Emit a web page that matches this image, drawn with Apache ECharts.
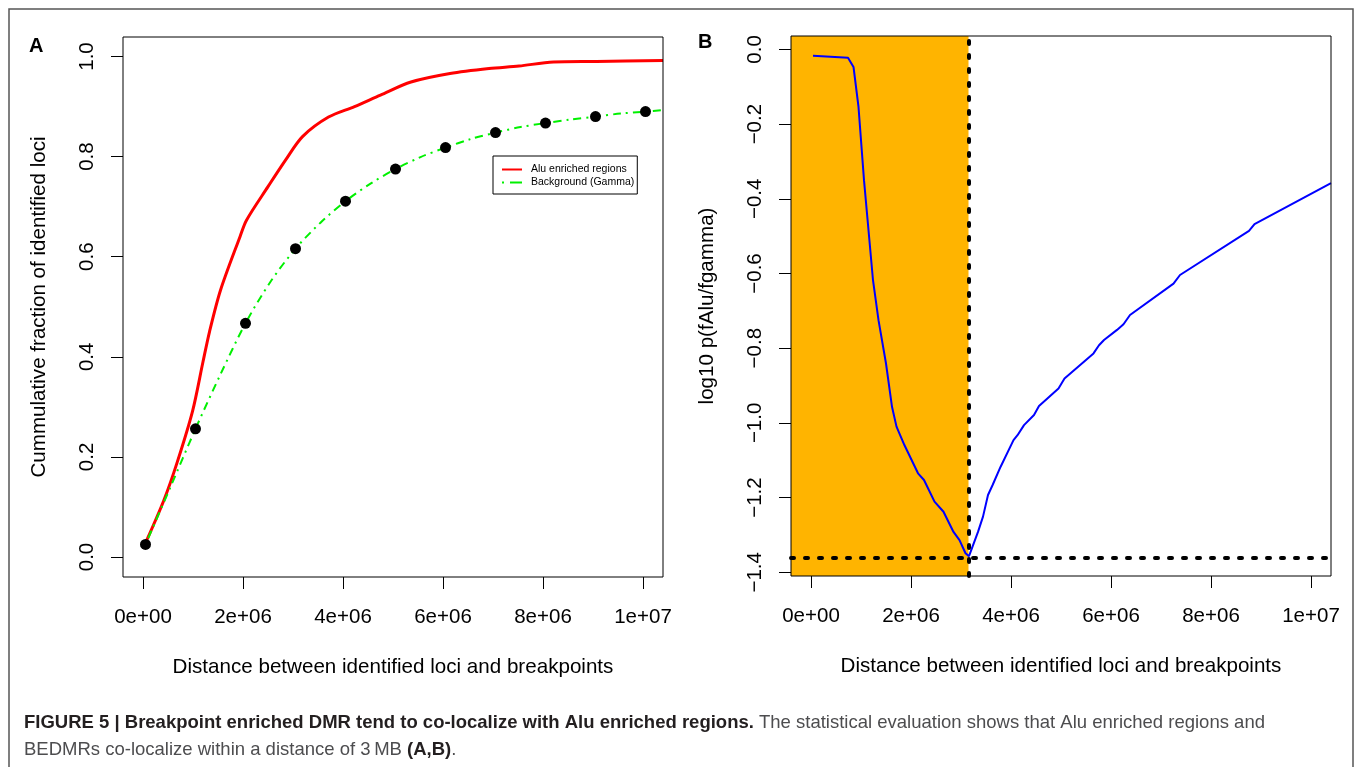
<!DOCTYPE html>
<html lang="en">
<head>
<meta charset="UTF-8">
<title>Figure 5</title>
<script src="https://cdn.jsdelivr.net/npm/echarts@6/dist/echarts.min.js"></script>
<style>
  html, body { margin: 0; padding: 0; background: #fff; }
  #chart { width: 1357px; height: 767px; }
</style>
</head>
<body>
<div id="chart"></div>
<script>
// ---- panel A: cumulative fraction of identified loci ----
var aluCurve = [
  [5e4, 0.028], [4.2e5, 0.114], [6.8e5, 0.188], [9.9e5, 0.291], [1.2e6, 0.39], [1.33e6, 0.45],
  [1.55e6, 0.533], [1.94e6, 0.64], [2.07e6, 0.673], [2.5e6, 0.74], [2.85e6, 0.793],
  [3.19e6, 0.84], [3.71e6, 0.879], [4.23e6, 0.90], [4.75e6, 0.923], [5.36e6, 0.949],
  [6.14e6, 0.966], [6.92e6, 0.976], [7.52e6, 0.981], [8.21e6, 0.989], [9.07e6, 0.99],
  [1.04e7, 0.992]
];
var gammaCurve = [
  [5e4, 0.025], [5.5e5, 0.14], [1.05e6, 0.256], [1.55e6, 0.365], [2.05e6, 0.467],
  [2.55e6, 0.55], [3.05e6, 0.616], [3.55e6, 0.668], [4.05e6, 0.711], [4.55e6, 0.746],
  [5.05e6, 0.775], [5.55e6, 0.799], [6.05e6, 0.818], [6.55e6, 0.835], [7.05e6, 0.848],
  [7.55e6, 0.859], [8.05e6, 0.867], [8.55e6, 0.874], [9.05e6, 0.880], [9.55e6, 0.886],
  [1.005e7, 0.890], [1.04e7, 0.893]
];
var gammaPoints = [
  [5e4, 0.025], [1.05e6, 0.256], [2.05e6, 0.467], [3.05e6, 0.616], [4.05e6, 0.711],
  [5.05e6, 0.775], [6.05e6, 0.818], [7.05e6, 0.848], [8.05e6, 0.867], [9.05e6, 0.880],
  [1.005e7, 0.890]
];

// ---- panel B: log10 p(fAlu/fgamma) ----
var logRatio = [
  [4e4, -0.017], [7.4e5, -0.022], [8.5e5, -0.047], [9.5e5, -0.154], [1.06e6, -0.35],
  [1.24e6, -0.618], [1.35e6, -0.725], [1.5e6, -0.841], [1.62e6, -0.957], [1.71e6, -1.01],
  [1.87e6, -1.06], [2.14e6, -1.135], [2.26e6, -1.153], [2.47e6, -1.211], [2.65e6, -1.238],
  [2.85e6, -1.292], [2.97e6, -1.314], [3.09e6, -1.349], [3.16e6, -1.357], [3.34e6, -1.292],
  [3.44e6, -1.251], [3.54e6, -1.193], [3.63e6, -1.167], [3.79e6, -1.118], [4.05e6, -1.046],
  [4.13e6, -1.033], [4.26e6, -1.006], [4.46e6, -0.979], [4.56e6, -0.955], [4.95e6, -0.908],
  [5.07e6, -0.881], [5.65e6, -0.814], [5.76e6, -0.792], [5.86e6, -0.778], [6.12e6, -0.751],
  [6.25e6, -0.736], [6.38e6, -0.711], [7.25e6, -0.627], [7.38e6, -0.604], [8.76e6, -0.486],
  [8.87e6, -0.468], [1.04e7, -0.358]
];
var cutoffDist = 3150000;
var minLogRatio = -1.357;

// ---- ticks ----
var xTicks = [0, 2e6, 4e6, 6e6, 8e6, 1e7];
var xTickLabels = ['0e+00', '2e+06', '4e+06', '6e+06', '8e+06', '1e+07'];
var yTicksA = [0, 0.2, 0.4, 0.6, 0.8, 1.0];
var yTickLabelsA = ['0.0', '0.2', '0.4', '0.6', '0.8', '1.0'];
var yTicksB = [0, -0.2, -0.4, -0.6, -0.8, -1.0, -1.2, -1.4];
var yTickLabelsB = ['0.0', '\u22120.2', '\u22120.4', '\u22120.6', '\u22120.8', '\u22121.0', '\u22121.2', '\u22121.4'];

var FONT = 'Liberation Sans, Arial, Helvetica, sans-serif';
var xMin = -400000, xMax = 10400000;

function lookup(ticks, labels) {
  return function (v) {
    for (var i = 0; i < ticks.length; i++) {
      if (Math.abs(ticks[i] - v) < 1e-6 * Math.max(1, Math.abs(v))) return labels[i];
    }
    return '';
  };
}

function xAxisFor(idx) {
  return {
    gridIndex: idx, type: 'value', min: xMin, max: xMax,
    name: 'Distance between identified loci and breakpoints',
    nameLocation: 'middle', nameGap: 80,
    nameTextStyle: { fontFamily: FONT, fontSize: 20.6, color: '#000' },
    axisLine: { show: false, onZero: false },
    axisTick: { show: true, length: 12, customValues: xTicks, lineStyle: { color: '#000', width: 1 } },
    axisLabel: { customValues: xTicks, formatter: lookup(xTicks, xTickLabels), margin: 30,
                 fontFamily: FONT, fontSize: 20.5, color: '#000' },
    splitLine: { show: false }
  };
}

function yAxisFor(idx, min, max, ticks, labels, name) {
  return {
    gridIndex: idx, type: 'value', min: min, max: max,
    name: name, nameLocation: 'middle', nameGap: 73,
    nameTextStyle: { fontFamily: FONT, fontSize: 20.6, color: '#000' },
    axisLine: { show: false, onZero: false },
    axisTick: { show: true, length: 12, customValues: ticks, lineStyle: { color: '#000', width: 1 } },
    axisLabel: { customValues: ticks, formatter: lookup(ticks, labels), rotate: 90, margin: 25,
                 fontFamily: FONT, fontSize: 20.5, color: '#000' },
    splitLine: { show: false }
  };
}

var chart = echarts.init(document.getElementById('chart'));
var option = {
  backgroundColor: '#fff',
  animation: false,
  grid: [
    { left: 123, top: 37, width: 540, height: 540, show: true, borderColor: '#000', borderWidth: 1,
      backgroundColor: 'transparent', z: 10 },
    { left: 791, top: 36, width: 540, height: 540, show: true, borderColor: '#000', borderWidth: 1,
      backgroundColor: 'transparent', z: 10 }
  ],
  xAxis: [xAxisFor(0), xAxisFor(1)],
  yAxis: [
    yAxisFor(0, -0.04, 1.039, yTicksA, yTickLabelsA, 'Cummulative fraction of identified loci'),
    yAxisFor(1, -1.41, 0.036, yTicksB, yTickLabelsB, 'log10 p(fAlu/fgamma)')
  ],
  legend: {
    orient: 'vertical', left: 493, top: 156,
    data: [
      { name: 'Alu enriched regions', icon: 'path://M0,0h20v2h-20z' },
      { name: 'Background (Gamma)', icon: 'path://M0,0h2v2h-2zM8,0h12v2h-12z' }
    ],
    backgroundColor: '#fff', borderColor: '#000', borderWidth: 1,
    padding: [8, 3, 6, 9], itemGap: 2, itemWidth: 20, itemHeight: 10,
    textStyle: { fontFamily: FONT, fontSize: 10.5, color: '#000', padding: [0, 0, 0, 4] }
  },
  series: [
    {
      name: 'Alu enriched regions', type: 'line', xAxisIndex: 0, yAxisIndex: 0,
      data: aluCurve, smooth: 0.3, showSymbol: false, symbol: 'none',
      lineStyle: { color: '#ff0000', width: 3 }, itemStyle: { color: '#ff0000' }
    },
    {
      name: 'Background (Gamma)', type: 'line', xAxisIndex: 0, yAxisIndex: 0,
      data: gammaCurve, smooth: 0.3, showSymbol: false, symbol: 'none',
      lineStyle: { color: '#00f000', width: 2, type: [2, 5, 8, 5] }, itemStyle: { color: '#00f000' }
    },
    {
      name: 'gamma points', type: 'scatter', xAxisIndex: 0, yAxisIndex: 0,
      data: gammaPoints, symbolSize: 11, itemStyle: { color: '#000', opacity: 1 }, z: 4
    },
    {
      name: 'log ratio', type: 'line', xAxisIndex: 1, yAxisIndex: 1,
      data: logRatio, showSymbol: false, symbol: 'none',
      lineStyle: { color: '#0000ff', width: 2 }, z: 3,
      markArea: {
        silent: true, itemStyle: { color: '#ffb400' },
        data: [[{ xAxis: xMin }, { xAxis: cutoffDist }]]
      },
      markLine: {
        silent: true, symbol: 'none', label: { show: false },
        lineStyle: { color: '#000', width: 4, type: [3, 11], cap: 'round' },
        data: [{ xAxis: cutoffDist }, { yAxis: minLogRatio }]
      }
    }
  ],
  graphic: [
    { type: 'rect', silent: true, z: 0,
      shape: { x: 9, y: 9, width: 1344, height: 800 },
      style: { fill: null, stroke: '#555', lineWidth: 1.5 } },
    { type: 'text', left: 29, top: 36,
      style: { text: 'A', font: 'bold 20px ' + FONT, fill: '#000' } },
    { type: 'text', left: 698, top: 32,
      style: { text: 'B', font: 'bold 20px ' + FONT, fill: '#000' } },
    { type: 'text', left: 24, top: 713,
      style: {
        text: '{b|FIGURE 5 | Breakpoint enriched DMR tend to co-localize with Alu enriched regions.}{n| The statistical evaluation shows that Alu enriched regions and}',
        rich: {
          b: { font: 'bold 18.5px ' + FONT, fill: '#231f20' },
          n: { font: '18.5px ' + FONT, fill: '#4d4d4f' }
        }
      } },
    { type: 'text', left: 24, top: 740,
      style: {
        text: '{n|BEDMRs co-localize within a distance of 3\u2009MB }{b|(A,B)}{n|.}',
        rich: {
          b: { font: 'bold 18.5px ' + FONT, fill: '#231f20' },
          n: { font: '18.5px ' + FONT, fill: '#4d4d4f' }
        }
      } }
  ]
};
chart.setOption(option);
</script>
</body>
</html>
